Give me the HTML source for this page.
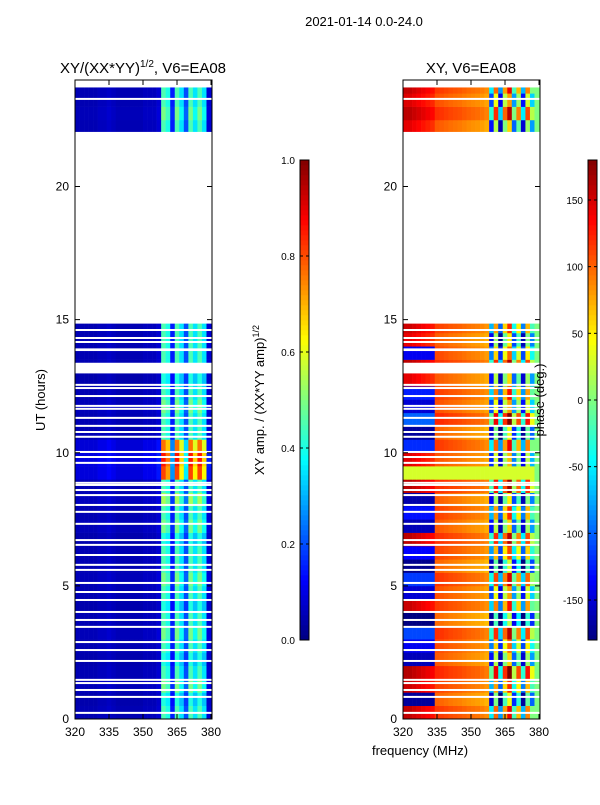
<!DOCTYPE html>
<html><head><meta charset="utf-8">
<style>
body{margin:0;background:#fff;}
svg text{font-family:"Liberation Sans","DejaVu Sans",sans-serif;}
</style></head>
<body>
<svg id="fig" width="600" height="800" viewBox="0 0 600 800" xmlns="http://www.w3.org/2000/svg">
<rect width="600" height="800" fill="#fff"/>
<text x="364" y="26" font-size="13" text-anchor="middle">2021-01-14 0.0-24.0</text>
<text x="143" y="73" font-size="15" text-anchor="middle">XY/(XX*YY)<tspan font-size="10" dy="-6">1/2</tspan><tspan dy="6">, V6=EA08</tspan></text>
<text x="471" y="73" font-size="15" text-anchor="middle">XY, V6=EA08</text>
<text transform="translate(45,400) rotate(-90)" font-size="13" text-anchor="middle">UT (hours)</text>
<text x="420" y="755" font-size="13" text-anchor="middle">frequency (MHz)</text>
<text transform="translate(264,400) rotate(-90)" font-size="13" text-anchor="middle">XY amp. / (XX*YY amp)<tspan font-size="9" dy="-5">1/2</tspan></text>
<g id="g"></g>
<text transform="translate(544,400) rotate(-90)" font-size="13" text-anchor="middle">phase (deg.)</text>
</svg>
<script>
// ---- data ----
const freqEdges = [320,322,324,326,328,330,332,334,336,338,340,342,344,346,348,350,352,354,356,358,360,362,364,366,368,370,372,374,376,378,380,382];
const ampProfile = [0.05,0.05,0.05,0.05,0.05,0.06,0.06,0.07,0.06,0.05,0.05,0.05,0.05,0.05,0.05,0.06,0.06,0.06,0.08,0.45,0.4,0.15,0.45,0.35,0.2,0.45,0.35,0.45,0.35,0.08,0.06];
const phaseProfile = [150,150,145,140,135,130,125,110,108,105,102,100,98,95,92,90,88,85,80,-90,60,-120,40,100,-60,30,-110,50,-40,0,0];
// per half-hour row, hours 0..24 (48 rows)
const rowAmp = [1.0,0.9,1.1,1.0,0.9,1.0,1.1,1.0,0.9,1.0,1.1,1.0,1.0,0.9,1.1,1.0,1.2,1.0,1.8,1.9,1.7,1.0,1.0,1.1,1.0,0.9,1.0,1.0,1.0,1.0,1,1,1,1,1,1,1,1,1,1,1,1,1,1,1.0,1.1,1.0,1.0];
const phaseShift = [20,-30,10,40,-20,0,30,-40,15,-10,25,-35,5,30,-20,10,-25,35,0,-15,20,-30,40,-10,15,-20,30,0,-25,10,0,0,0,0,0,0,0,0,0,0,0,0,0,0,-20,30,-10,20];
const blueRows = [[0.3,1.0],[2.0,4.2],[4.5,6.5],[7.0,8.5],[10.2,12.6],[13.4,13.8]];
const stripeRows = [[9.25,9.75]];
const gaps = [[14.85,22.05],[23.72,24],[12.98,13.38],[13.82,13.92]];
const whiteLines = [23.29,14.61,14.31,14.16,12.55,12.43,12.13,11.76,11.65,11.31,11.01,10.78,10.6,10.03,9.84,9.62,8.87,8.79,8.6,8.41,8.04,7.78,7.33,6.72,6.54,6.16,5.79,5.6,5.11,4.77,4.47,4.02,3.72,3.46,2.89,2.59,2.18,1.47,1.35,1.09,0.83,0.23];
const yTicks = [0,5,10,15,20];
const xTicks = [320,335,350,365,380];
const ampTicks = [0.0,0.2,0.4,0.6,0.8,1.0];
const phaseTicks = [-150,-100,-50,0,50,100,150];

const NS="http://www.w3.org/2000/svg";
const G=document.getElementById('g');
function el(t,a,p){const e=document.createElementNS(NS,t);for(const k in a)e.setAttribute(k,a[k]);(p||G).appendChild(e);return e;}
function cl(x){return Math.max(0,Math.min(1,x));}
function jet(v){v=cl(v);const r=cl(1.5-Math.abs(4*v-3)),g=cl(1.5-Math.abs(4*v-2)),b=cl(1.5-Math.abs(4*v-1));return `rgb(${Math.round(r*255)},${Math.round(g*255)},${Math.round(b*255)})`;}
const Y=h=>719-h*26.625;
const panels=[{x0:75,name:'amp'},{x0:403,name:'phase'}];
function inR(h,list){return list.some(r=>h>=r[0]&&h<r[1]);}
panels.forEach(P=>{
  const X=f=>P.x0+(f-320)*2.267;
  const grp=el('g',{});
  
  
  for(let r=0;r<48;r++){
    const h0=r*0.5,h1=h0+0.5;
    for(let b=0;b<freqEdges.length-1;b++){
      let col;
      if(P.name==='amp'){ col=jet(ampProfile[b]*rowAmp[r]); }
      else{
        let p=phaseProfile[b];
        if(b>=19&&b<29) p+=phaseShift[r]*2;
        else p+=phaseShift[r]*0.3;
        if(b<7&&inR(h0+0.25,blueRows)) p=-140+phaseShift[r];
        if(inR(h0+0.25,stripeRows)) p=30+phaseShift[r];
        if(b>=29) p=0;
        p=Math.max(-180,Math.min(180,p));
        col=jet((p+180)/360);
      }
      const x1=X(freqEdges[b]);
      if(x1>=P.x0+137) continue;
      const x2=Math.min(X(freqEdges[b+1]),P.x0+137);
      const c=el('rect',{x:x1,y:Y(h1),width:x2-x1+0.3,height:Y(h0)-Y(h1)+0.3,fill:col},grp);
      
      
    }
  }
  gaps.forEach(g=>{const e=el('rect',{x:P.x0,y:Y(g[1]),width:137,height:Y(g[0])-Y(g[1]),fill:'#fff'},grp);
    
    });
  whiteLines.forEach(h=>{const e=el('rect',{x:P.x0,y:Y(h)-1,width:137,height:2,fill:'#fff'},grp);
    
    });
  const fr=el('rect',{x:P.x0,y:80,width:137,height:639,fill:'none',stroke:'#000','stroke-width':1});
  
  
  yTicks.forEach(t=>{
    el('line',{x1:P.x0,x2:P.x0+5,y1:Y(t),y2:Y(t),stroke:'#000'});
    el('line',{x1:P.x0+137,x2:P.x0+132,y1:Y(t),y2:Y(t),stroke:'#000'});
    const tx=el('text',{x:P.x0-6,y:Y(t)+4,'font-size':12,'text-anchor':'end'});tx.textContent=t;
    
    
  });
  xTicks.forEach(t=>{
    el('line',{x1:X(t),x2:X(t),y1:719,y2:714,stroke:'#000'});
    el('line',{x1:X(t),x2:X(t),y1:80,y2:85,stroke:'#000'});
    const tx=el('text',{x:X(t),y:736,'font-size':12,'text-anchor':'middle'});tx.textContent=t;
    
    
  });
});
// colorbars
[{x:300,ticks:ampTicks,min:0,max:1,name:'amp',fmt:v=>v.toFixed(1)},{x:588,ticks:phaseTicks,min:-180,max:180,name:'phase',fmt:v=>String(v)}].forEach(C=>{
  const cg=el('g',{});
  
  
  for(let i=0;i<96;i++){el('rect',{x:C.x,y:640-(i+1)*5,width:9,height:5.3,fill:jet((i+0.5)/96)},cg);}
  el('rect',{x:C.x,y:160,width:9,height:480,fill:'none',stroke:'#000'},cg);
  C.ticks.forEach(t=>{const y=640-(t-C.min)/(C.max-C.min)*480;
    el('line',{x1:C.x,x2:C.x+3,y1:y,y2:y,stroke:'#000'},cg);
    el('line',{x1:C.x+9,x2:C.x+6,y1:y,y2:y,stroke:'#000'},cg);
    const tx=el('text',{x:C.x-5,y:y+4,'font-size':10,'text-anchor':'end'},cg);tx.textContent=C.fmt(t);
    
    
  });
});
</script>
</body></html>
